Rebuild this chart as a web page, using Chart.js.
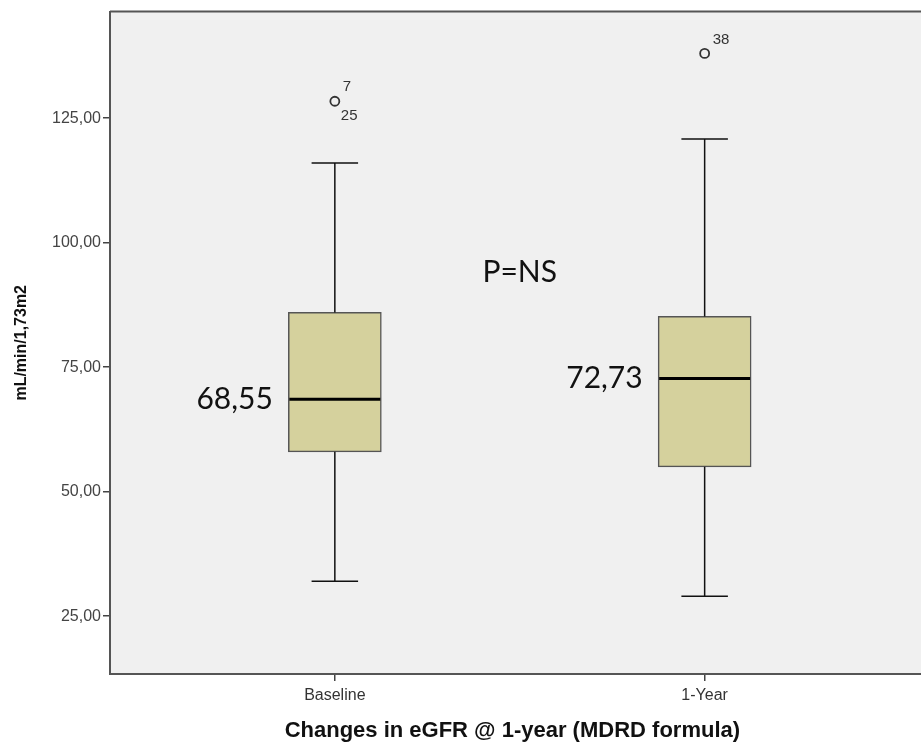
<!DOCTYPE html>
<html>
<head>
<meta charset="utf-8">
<script src="https://cdn.jsdelivr.net/npm/chart.js@4.4.1/dist/chart.umd.min.js"></script>
<style>
  body { margin: 0; background: #fff; }
  #wrap { width: 921px; height: 744px; }
</style>
</head>
<body>
<div id="wrap"><canvas id="boxChart" width="921" height="744"></canvas></div>
<script>
// box plot values (mL/min/1,73m2)
const categories = ['Baseline', '1-Year'];
const mins = [32, 29];
const q1 = [58, 55];
const medians = [68.55, 72.73];
const q3 = [86, 85.2];
const maxs = [116, 120.8];
const outliers = [128.4, 138];
const outlierIds = [['7', '25'], ['38']];
const medianLabels = ['68,55', '72,73'];
const yTicks = [25, 50, 75, 100, 125];

const xPos = categories.map((c, i) => i + 1);

// whiskers, caps, medians and annotations
const boxExtras = {
    id: 'boxExtras',
    beforeDraw(chart) {
        const a = chart.chartArea;
        const ctx = chart.ctx;
        ctx.save();
        ctx.fillStyle = '#f0f0f0';
        ctx.fillRect(a.left, a.top, chart.width - a.left, a.bottom - a.top);
        ctx.restore();
    },
    afterDatasetsDraw(chart) {
        const ctx = chart.ctx;
        const xs = chart.scales.x;
        const ys = chart.scales.y;
        ctx.save();
        xPos.forEach((p, i) => {
            const cx = xs.getPixelForValue(p);
            const half = 46.5;
            ctx.strokeStyle = '#111';
            ctx.lineWidth = 1.5;
            ctx.beginPath();
            ctx.moveTo(cx, ys.getPixelForValue(maxs[i]));
            ctx.lineTo(cx, ys.getPixelForValue(q3[i]));
            ctx.moveTo(cx, ys.getPixelForValue(q1[i]));
            ctx.lineTo(cx, ys.getPixelForValue(mins[i]));
            ctx.moveTo(cx - half / 2, ys.getPixelForValue(maxs[i]));
            ctx.lineTo(cx + half / 2, ys.getPixelForValue(maxs[i]));
            ctx.moveTo(cx - half / 2, ys.getPixelForValue(mins[i]));
            ctx.lineTo(cx + half / 2, ys.getPixelForValue(mins[i]));
            ctx.stroke();

            // median
            ctx.lineWidth = 3;
            ctx.strokeStyle = '#000';
            ctx.beginPath();
            const my = ys.getPixelForValue(medians[i]);
            ctx.moveTo(cx - half + 1, my);
            ctx.lineTo(cx + half - 1, my);
            ctx.stroke();

            // median value label
            ctx.fillStyle = '#111';
            ctx.font = '30px Lato, "Open Sans", sans-serif';
            ctx.textAlign = 'right';
            ctx.textBaseline = 'middle';
            ctx.fillText(medianLabels[i], cx - 62, my);

            // outlier case numbers
            const oy = ys.getPixelForValue(outliers[i]);
            ctx.font = '15px "Liberation Sans", Arial, sans-serif';
            ctx.fillStyle = '#333';
            ctx.textAlign = 'left';
            ctx.fillText(outlierIds[i][0], cx + 8, oy - 14);
            if (outlierIds[i][1]) ctx.fillText(outlierIds[i][1], cx + 6, oy + 15);
        });

        // P value between the two groups
        ctx.font = '30px Lato, "Open Sans", sans-serif';
        ctx.fillStyle = '#111';
        ctx.textAlign = 'center';
        ctx.textBaseline = 'middle';
        ctx.fillText('P=NS', xs.getPixelForValue(1.5), ys.getPixelForValue(94));

        // top and bottom frame lines run to the edge of the picture
        const a = chart.chartArea;
        ctx.strokeStyle = '#555';
        ctx.lineWidth = 2;
        ctx.beginPath();
        ctx.moveTo(a.left, a.top);
        ctx.lineTo(chart.width, a.top);
        ctx.moveTo(a.left, a.bottom);
        ctx.lineTo(chart.width, a.bottom);
        ctx.stroke();
        ctx.restore();
    }
};

const ctx = document.getElementById('boxChart').getContext('2d');
const boxChart = new Chart(ctx, {
    type: 'bar',
    data: {
        datasets: [
            {
                type: 'bar',
                data: xPos.map((p, i) => ({ x: p, y: [q1[i], q3[i]] })),
                backgroundColor: '#d5d19d',
                borderColor: '#555',
                borderWidth: 1.5,
                borderSkipped: false,
                barThickness: 93,
                order: 2
            },
            {
                type: 'scatter',
                data: xPos.map((p, i) => ({ x: p, y: outliers[i] })),
                pointRadius: 4.5,
                pointBorderWidth: 1.8,
                pointBorderColor: '#333',
                pointBackgroundColor: 'rgba(0,0,0,0)',
                order: 1
            }
        ]
    },
    options: {
        responsive: false,
        animation: false,
        layout: { padding: { top: 10, right: 0, left: 0, bottom: 0 } },
        plugins: {
            legend: { display: false },
            tooltip: { enabled: false }
        },
        scales: {
            x: {
                type: 'linear',
                offset: false,
                min: 0.392,
                max: 2.568,
                afterBuildTicks: (scale) => { scale.ticks = xPos.map(v => ({ value: v })); },
                afterFit: (scale) => { scale.height = 70; },
                ticks: {
                    callback: (v) => categories[v - 1],
                    font: { family: '"Liberation Sans", Arial', size: 16 },
                    color: '#333',
                    padding: 5,
                    maxRotation: 0
                },
                grid: { offset: false, drawOnChartArea: false, drawTicks: true, tickLength: 7, color: '#444', lineWidth: 1.5 },
                border: { display: true, color: '#555', width: 2 },
                title: {
                    display: true,
                    text: 'Changes in eGFR @ 1-year (MDRD formula)',
                    font: { family: '"Liberation Sans", Arial', size: 22, weight: 'bold' },
                    color: '#111',
                    padding: { top: 0, bottom: 0 }
                }
            },
            y: {
                min: 13.4,
                max: 146.4,
                afterBuildTicks: (scale) => { scale.ticks = yTicks.map(v => ({ value: v })); },
                afterFit: (scale) => { scale.width = 110; },
                ticks: {
                    callback: (v) => v.toFixed(2).replace('.', ','),
                    font: { family: '"Liberation Sans", Arial', size: 16 },
                    color: '#444',
                    padding: 2
                },
                grid: { drawOnChartArea: false, drawTicks: true, tickLength: 7, color: '#444', lineWidth: 1.5 },
                border: { display: true, color: '#555', width: 2 },
                title: {
                    display: true,
                    text: 'mL/min/1,73m2',
                    font: { family: '"Liberation Sans", Arial', size: 16, weight: 'bold' },
                    color: '#111',
                    padding: { top: 12, bottom: 0 }
                }
            }
        }
    },
    plugins: [boxExtras]
});
</script>
</body>
</html>
